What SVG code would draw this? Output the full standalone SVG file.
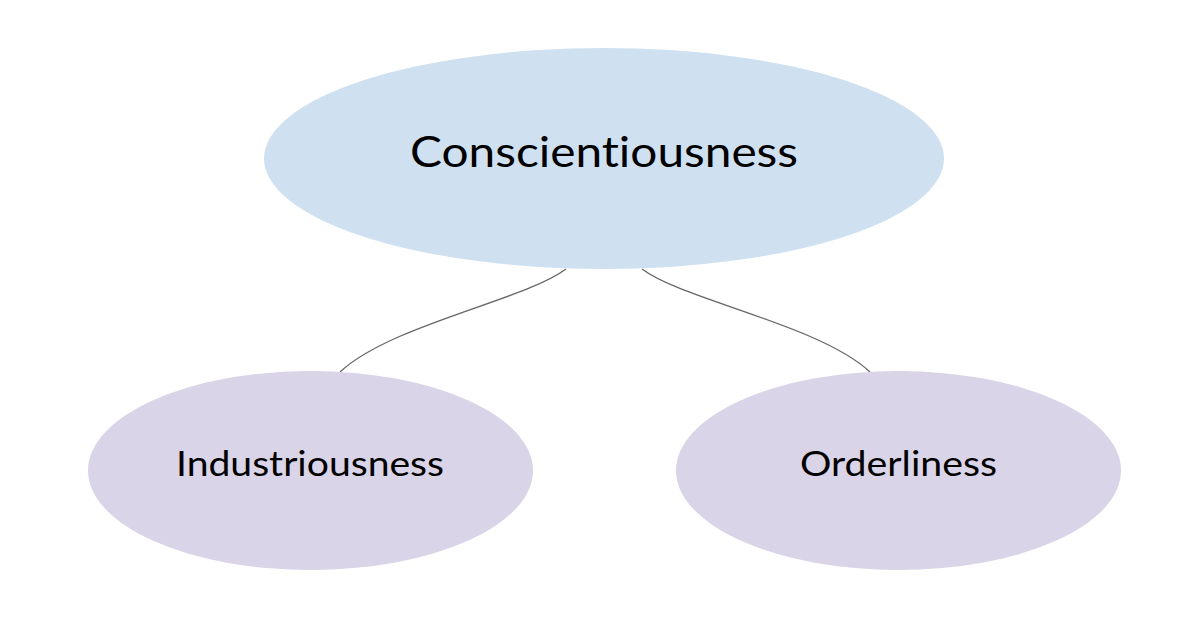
<svg xmlns="http://www.w3.org/2000/svg" width="1182" height="630" viewBox="0 0 1182 630">
<style>
.lbl{font-family:Lato,"Liberation Sans",sans-serif;fill:#000;text-anchor:middle;font-variant-ligatures:none}
.edge{fill:none;stroke:#666;stroke-width:1.3}
</style>
<rect width="1182" height="630" fill="#fff"/>
<g id="connectors">
<path class="edge" d="M566,269 C525,300 390,325 340,372"/>
<path class="edge" d="M642,269 C683,300 820,325 870,372"/>
</g>
<g id="conscientiousness">
<ellipse cx="604" cy="158.5" rx="340" ry="110.5" fill="#cfe0f0"/>
<text class="lbl" x="604" y="167" font-size="42" textLength="388" lengthAdjust="spacingAndGlyphs">Conscientiousness</text>
</g>
<g id="industriousness">
<ellipse cx="310.5" cy="470.5" rx="222.5" ry="99.5" fill="#d9d4e7"/>
<text class="lbl" x="310" y="476" font-size="34" textLength="268" lengthAdjust="spacingAndGlyphs">Industriousness</text>
</g>
<g id="orderliness">
<ellipse cx="898.5" cy="470.5" rx="222.5" ry="99.5" fill="#d9d4e7"/>
<text class="lbl" x="898.5" y="476" font-size="34" textLength="197" lengthAdjust="spacingAndGlyphs">Orderliness</text>
</g>
</svg>
